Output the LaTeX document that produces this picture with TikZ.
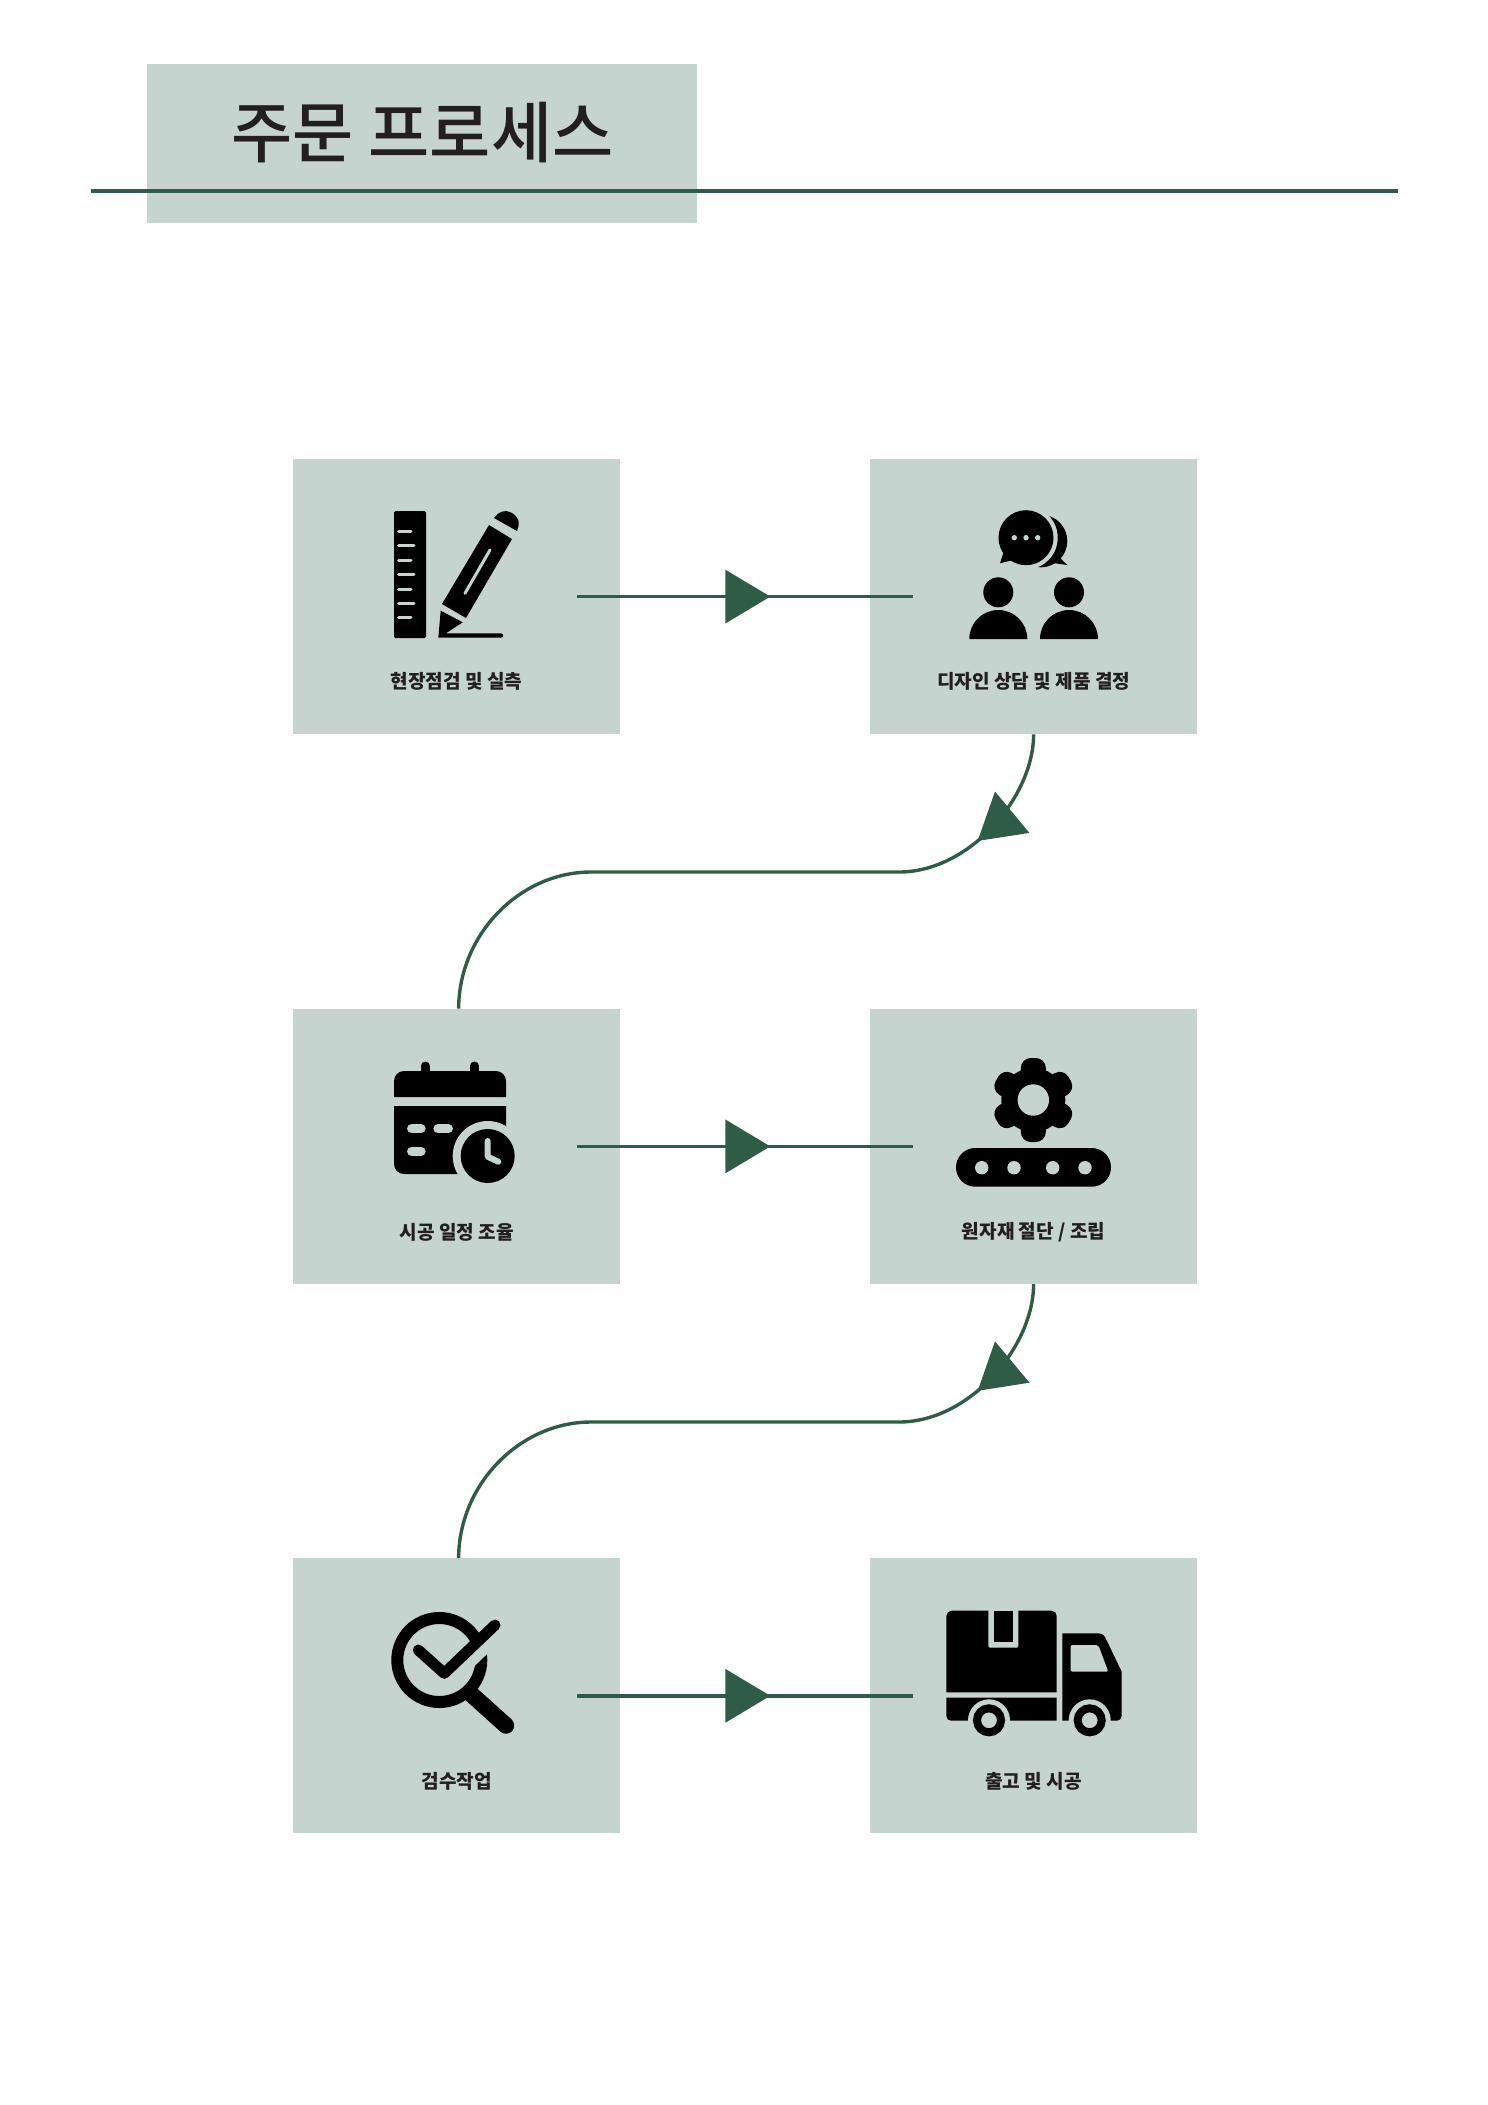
\documentclass[tikz,border=0pt]{standalone}
\usepackage{fontspec}
\newfontfamily\cjk{Noto Sans CJK KR}
\newfontfamily\cjkmid{Noto Sans CJK KR Medium}
\usetikzlibrary{arrows.meta,calc,decorations.markings}
\definecolor{sage}{HTML}{C5D4CE}
\definecolor{pine}{HTML}{2E5C47}
\definecolor{ink}{HTML}{231F20}
\tikzset{
    stepbox/.style={fill=sage,minimum width=327.7pt,minimum height=275.2pt,inner sep=0pt},
    steplabel/.style={font=\cjk\bfseries\fontsize{19.1}{22}\selectfont,text=ink,inner sep=0pt},
    flowline/.style={draw=pine,line width=3.4pt},
    midtip/.style={postaction={decorate},decoration={markings,
        mark=at position #1 with {\arrow{Triangle[length=45pt,width=53pt,fill=pine]}}}},
}
\begin{document}
\begin{tikzpicture}[x=1pt,y=1pt,yscale=-1]
    \useasboundingbox (0,0) rectangle (1488,2105);
    \def\ca{456.6}
    \def\cb{1033.6}
    \def\ra{596.6}
    \def\rb{1146.4}
    \def\rc{1695.8}

    % title
    \node[fill=sage,minimum width=550pt,minimum height=158.5pt,inner sep=0pt] (titlebox) at (422,143.7) {};
    \node[font=\cjkmid\fontsize{66.5}{70}\selectfont,text=ink,inner sep=0pt] (titletext) at (422.5,132.5) {주문 프로세스};
    \coordinate (ruleleft) at (91,190.7);
    \coordinate (ruleright) at (1398,190.7);
    \draw[pine,line width=3.8pt] (ruleleft) -- (ruleright);

    % boxes
    \node[stepbox] (stepa) at (\ca,\ra) {};
    \node[stepbox] (stepb) at (\cb,\ra) {};
    \node[stepbox] (stepc) at (\ca,\rb) {};
    \node[stepbox] (stepd) at (\cb,\rb) {};
    \node[stepbox] (stepe) at (\ca,\rc) {};
    \node[stepbox] (stepf) at (\cb,\rc) {};

    \node[steplabel] (labela) at ($(stepa.center)+(0,85)$) {현장점검 및 실측};
    \node[steplabel] (labelb) at ($(stepb.center)+(0,85)$) {디자인 상담 및 제품 결정};
    \node[steplabel] (labelc) at ($(stepc.center)+(0,85.5)$) {시공 일정 조율};
    \node[steplabel] (labeld) at ($(stepd.center)+(0,85.5)$) {원자재 절단 / 조립};
    \node[steplabel] (labele) at ($(stepe.center)+(0,85.5)$) {검수작업};
    \node[steplabel] (labelf) at ($(stepf.center)+(0,85.5)$) {출고 및 시공};

    % straight links
    \foreach \aa/\bb in {stepa/stepb,stepc/stepd,stepe/stepf} {
        \coordinate (\aa out) at ($(\aa.east)+(-43.5,0)$);
        \coordinate (\bb in) at ($(\bb.west)+(43,0)$);
        \draw[flowline,midtip=.576] (\aa out) -- (\bb in);
    }

    % curved links
    \coordinate (enterc) at ($(stepc.north)+(2,0)$);
    \coordinate (entere) at ($(stepe.north)+(2,0)$);
    \draw[flowline,midtip=124pt] (stepb.south) .. controls ++(0,62) and (970,872) .. (899,872)
        -- (591,872) .. controls (520,872) and (459,934) .. (enterc);
    \draw[flowline,midtip=124pt] (stepd.south) .. controls ++(0,62) and (970,1422) .. (899,1422)
        -- (591,1422) .. controls (520,1422) and (459,1484) .. (entere);

    % ruler and pencil
    \fill[rounded corners=1.5] (394,511) rectangle (426,638);
    \foreach \yy/\xx in {531.3/411,545.7/414,560/411,574.3/414,589/411,603.3/414,617.7/411}
        \draw[sage,line width=3,line cap=round] (398.5,\yy) -- (\xx,\yy);
    \fill (442,604) -- (466,618) -- (512,539) -- (489,525) -- cycle;
    \fill (494,518) .. controls (498,512) and (505,509) .. (511,512.5)
        .. controls (518,516) and (521,522) .. (517,531) -- cycle;
    \draw[sage,line width=3,line cap=round] (465,593.3) -- (490,550);
    \fill (440.7,610.7) -- (462.7,622.3) -- (446,633.3) -- (501,633.3)
        .. controls (504,634) and (504,637.7) .. (501,637.7) -- (438.3,637.7) -- cycle;

    % speech bubbles and people
    \fill (1041,541) circle[radius=26.3];
    \fill (1060,558) -- (1067.3,565) -- (1053,563) -- cycle;
    \fill[sage] (1026,537.7) circle[radius=31.7];
    \fill (1026,537.7) circle[radius=27.5];
    \fill (1003.3,553) -- (1000,563.3) -- (1013,560) -- cycle;
    \foreach \xx in {1014.3,1026,1037.7}
        \fill[sage] (\xx,537.7) circle[radius=2.7];
    \foreach \xx in {998.3,1069} {
        \fill (\xx,592.3) circle[radius=15];
        \fill (\xx-29,639) arc[start angle=180,end angle=360,radius=29] -- cycle;
    }

    % calendar and clock
    \draw[line width=9,line cap=round] (425,1066) -- (425,1075);
    \draw[line width=9,line cap=round] (474.3,1066) -- (474.3,1075);
    \fill (394,1097) -- (394,1081) arc[start angle=180,end angle=270,radius=10]
        -- (496,1071) arc[start angle=270,end angle=360,radius=10] -- (506,1097) -- cycle;
    \fill (394,1106) -- (506,1106) -- (506,1174) -- (404,1174)
        arc[start angle=90,end angle=180,radius=10] -- cycle;
    \foreach \xa/\xb/\yy in {407.7/425/1128.7,434/452.3/1128.7,407.7/425/1151.3}
        \draw[sage,line width=9.3,line cap=round] (\xa+4,\yy) -- (\xb-4,\yy);
    \fill[sage] (487.7,1156) circle[radius=35];
    \fill (487.7,1156) circle[radius=27];
    \draw[sage,line width=6,line cap=round,line join=round] (487.7,1141) -- (487.7,1156.7) -- (498.3,1161.7);

    % gear and conveyor
    \foreach \aa in {0,60,120}
        \fill[rotate around={\aa:(1033.3,1100)},rounded corners=10] (1020.8,1058) rectangle (1045.8,1142);
    \fill (1033.3,1100) circle[radius=32];
    \fill[sage] (1033.3,1100) circle[radius=15.7];
    \fill[rounded corners=19.3] (956,1148) rectangle (1111,1186.7);
    \foreach \xx in {981.7,1014,1052.7,1085}
        \fill[sage] (\xx,1167.7) circle[radius=6.7];

    % magnifier and check
    \draw[line width=12] (439.3,1660) circle[radius=42];
    \draw[line width=16.5,line cap=round] (471,1694) -- (506,1725.5);
    \draw[sage,line width=17] (449.3,1678.3) -- (500,1630);
    \draw[line width=11,line cap=round,line join=round] (418.3,1650) -- (444.3,1673.3) -- (495,1625);

    % truck with parcel
    \fill (946.3,1692.3) -- (946.3,1616) arc[start angle=180,end angle=270,radius=5.3]
        -- (1051.4,1610.7) arc[start angle=270,end angle=360,radius=5.3] -- (1056.7,1692.3) -- cycle;
    \fill[sage,rounded corners=2] (988.3,1605) rectangle (1018.3,1647.7);
    \fill (993.7,1610.7) rectangle (1013,1642.3);
    \fill (946.3,1697.7) -- (1056.7,1697.7) -- (1056.7,1720.7) -- (951,1720.7)
        arc[start angle=90,end angle=180,radius=4.7] -- cycle;
    \fill (1062.3,1720.7) -- (1062.3,1633.3) -- (1098.3,1633.3)
        .. controls (1102,1633.3) and (1104,1635) .. (1106,1639) -- (1121.7,1671.7) -- (1121.7,1716)
        arc[start angle=0,end angle=90,radius=4.7] -- cycle;
    \fill[sage,rounded corners=2] (1070.7,1645) -- (1098.3,1645) -- (1108.3,1671.7) -- (1070.7,1671.7) -- cycle;
    \foreach \xx in {989,1089.7} {
        \fill[sage] (\xx,1720.3) circle[radius=21];
        \draw[line width=8] (\xx,1720.3) circle[radius=12];
    }
\end{tikzpicture}
\end{document}
